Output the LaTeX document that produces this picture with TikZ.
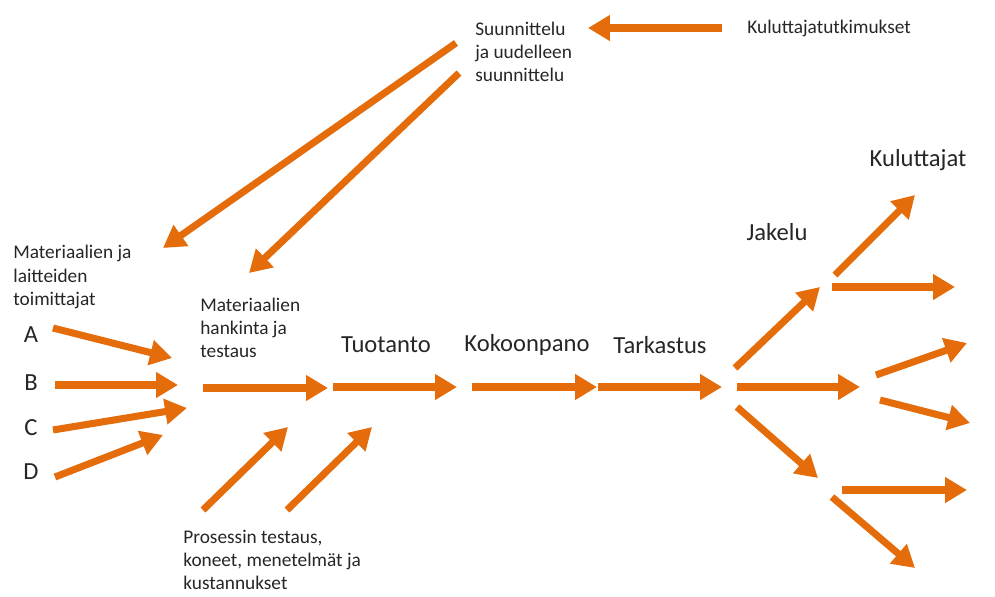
\documentclass[tikz,border=0pt]{standalone}
\usepackage{fontspec}
\setmainfont{Carlito}
\usetikzlibrary{positioning}
\usetikzlibrary{arrows.meta}
\definecolor{oranssi}{RGB}{228,108,10}
\tikzset{
    edgeo/.style = {-{Triangle[width=14pt,length=12.5pt]},line width=4pt,draw=oranssi},
    pieni/.style = {inner sep=0pt, align=left, anchor=west, text=black!85, font=\fontsize{11pt}{13.2pt}\selectfont},
    iso/.style = {inner sep=0pt, text=black!85, font=\fontsize{14pt}{17pt}\selectfont},
}

\begin{document}
\begin{tikzpicture}[x=0.02cm, y=-0.02cm]
  \useasboundingbox (0,0) rectangle (995,596);

  % tekstit
  \node[pieni] (kt) at (747,28) {Kuluttajatutkimukset};
  \node[pieni] (suun) at (475,52) {Suunnittelu\\ja uudelleen\\suunnittelu};
  \node[pieni] (toim) at (13,277) {Materiaalien ja\\laitteiden\\toimittajat};
  \node[pieni] (hank) at (200,328) {Materiaalien\\hankinta ja\\testaus};
  \node[pieni] (pros) at (183,560) {Prosessin testaus,\\koneet, menetelmät ja\\kustannukset};

  \node[iso] (a) at (31,335) {A};
  \node[iso] (b) at (31,383) {B};
  \node[iso] (c) at (31,428) {C};
  \node[iso] (d) at (31,472) {D};
  \node[iso] (tuot) at (386,345) {Tuotanto};
  \node[iso] (koko) at (527,345) {Kokoonpano};
  \node[iso] (tark) at (660,345) {Tarkastus};
  \node[iso] (jak) at (777,232) {Jakelu};
  \node[iso] (kul) at (918,160) {Kuluttajat};

  % nuolten päät
  \coordinate (kt1) at (722,28);   \coordinate (kt2) at (588,28);
  \coordinate (s1a) at (456,43);   \coordinate (s1b) at (163,248);
  \coordinate (s2a) at (459,73);   \coordinate (s2b) at (249,273);
  \coordinate (a1) at (53,328);    \coordinate (a2) at (172,358);
  \coordinate (b1) at (55,385);    \coordinate (b2) at (178,385);
  \coordinate (c1) at (53,430);    \coordinate (c2) at (187,408);
  \coordinate (d1) at (55,477);    \coordinate (d2) at (163,435);
  \coordinate (m1) at (203,388);   \coordinate (m2) at (328,388);
  \coordinate (p1a) at (203,510);  \coordinate (p1b) at (288,427);
  \coordinate (p2a) at (287,510);  \coordinate (p2b) at (372,427);
  \coordinate (t1) at (333,387);   \coordinate (t2) at (457,387);
  \coordinate (k1) at (472,387);   \coordinate (k2) at (597,387);
  \coordinate (r1) at (598,387);   \coordinate (r2) at (722,387);
  \coordinate (ry1) at (735,368);  \coordinate (ry2) at (820,287);
  \coordinate (rk1) at (737,387);  \coordinate (rk2) at (860,387);
  \coordinate (ra1) at (737,407);  \coordinate (ra2) at (818,478);
  \coordinate (jy1) at (835,275);  \coordinate (jy2) at (915,195);
  \coordinate (jk1) at (832,287);  \coordinate (jk2) at (955,287);
  \coordinate (ky1) at (876,375);  \coordinate (ky2) at (967,343);
  \coordinate (ka1) at (880,400);  \coordinate (ka2) at (970,423);
  \coordinate (ay1) at (842,490);  \coordinate (ay2) at (967,490);
  \coordinate (aa1) at (832,497);  \coordinate (aa2) at (915,568);

  % nuolet
  \draw[edgeo] (kt1) -- (kt2);
  \draw[edgeo] (s1a) -- (s1b);
  \draw[edgeo] (s2a) -- (s2b);
  \draw[edgeo] (a1) -- (a2);
  \draw[edgeo] (b1) -- (b2);
  \draw[edgeo] (c1) -- (c2);
  \draw[edgeo] (d1) -- (d2);
  \draw[edgeo] (m1) -- (m2);
  \draw[edgeo] (p1a) -- (p1b);
  \draw[edgeo] (p2a) -- (p2b);
  \draw[edgeo] (t1) -- (t2);
  \draw[edgeo] (k1) -- (k2);
  \draw[edgeo] (r1) -- (r2);
  \draw[edgeo] (ry1) -- (ry2);
  \draw[edgeo] (rk1) -- (rk2);
  \draw[edgeo] (ra1) -- (ra2);
  \draw[edgeo] (jy1) -- (jy2);
  \draw[edgeo] (jk1) -- (jk2);
  \draw[edgeo] (ky1) -- (ky2);
  \draw[edgeo] (ka1) -- (ka2);
  \draw[edgeo] (ay1) -- (ay2);
  \draw[edgeo] (aa1) -- (aa2);

\end{tikzpicture}
\end{document}
